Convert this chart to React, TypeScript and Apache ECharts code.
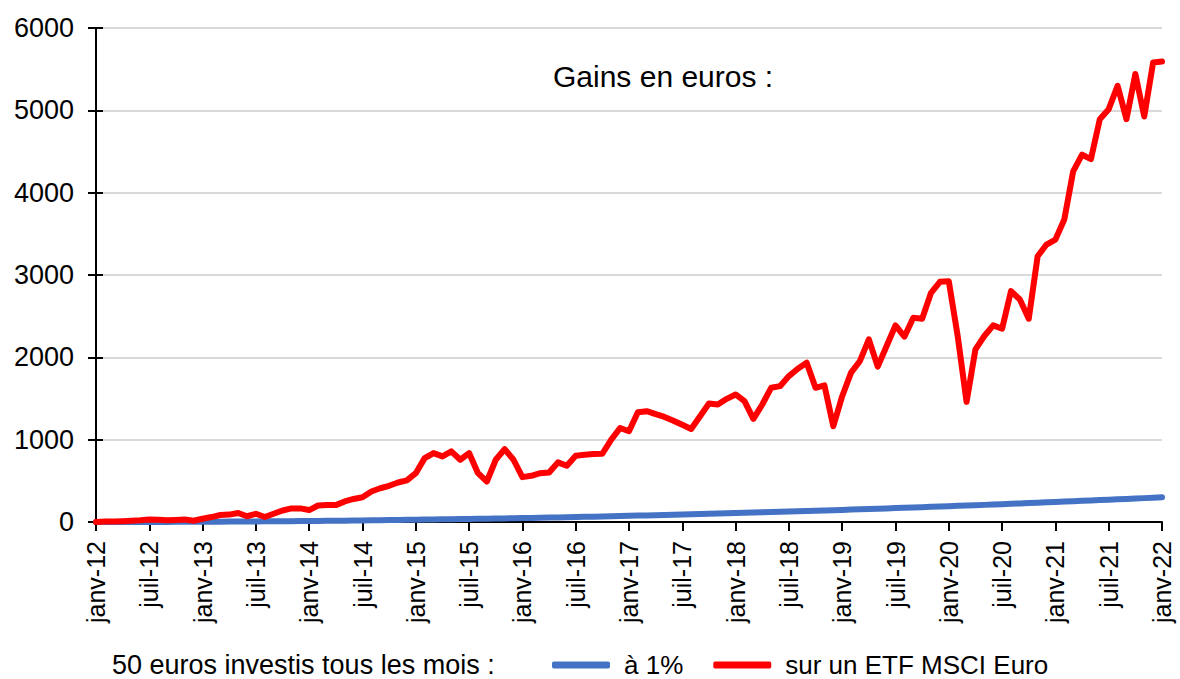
import React, { useEffect, useRef } from "react";
import * as echarts from "echarts";

const monthNames = ["janv", "févr", "mars", "avr", "mai", "juin", "juil", "août", "sept", "oct", "nov", "déc"];
const yearLabels = ["12", "13", "14", "15", "16", "17", "18", "19", "20", "21", "22"];

const yTicks = [0, 1000, 2000, 3000, 4000, 5000, 6000];

const gains1pct = [
  0, 0, 0, 0, 0, 1, 1, 1, 1, 2, 2, 3,
  3, 4, 4, 5, 5, 6, 7, 8, 8, 9, 10, 11,
  12, 13, 14, 15, 16, 18, 19, 20, 21, 23, 24, 26,
  27, 29, 30, 32, 33, 35, 37, 39, 40, 42, 44, 46,
  48, 50, 52, 54, 56, 59, 61, 63, 65, 68, 70, 73,
  75, 78, 80, 83, 85, 88, 91, 94, 96, 99, 102, 105,
  108, 111, 114, 117, 120, 124, 127, 130, 133, 137, 140, 144,
  147, 151, 154, 158, 161, 165, 169, 173, 176, 180, 184, 188,
  192, 196, 200, 204, 208, 213, 217, 221, 225, 230, 234, 239,
  243, 248, 252, 257, 261, 266, 271, 276, 280, 285, 290, 295,
  300,
];

const gainsETF = [
  0, 5, 5, 10, 15, 20, 30, 28, 20, 25, 30, 15,
  40, 60, 85, 90, 110, 70, 100, 60, 100, 140, 165, 165,
  145, 200, 205, 205, 250, 280, 300, 370, 410, 440, 480, 505,
  593, 776, 837, 797, 858, 756, 837, 593, 492, 756, 886, 756,
  545, 561, 593, 602, 724, 683, 805, 817, 825, 829, 1000, 1142,
  1102, 1333, 1346, 1310, 1276, 1230, 1180, 1130, 1285, 1439, 1427, 1496,
  1549, 1467, 1252, 1427, 1630, 1650, 1772, 1862, 1935, 1630, 1659, 1163,
  1528, 1814, 1956, 2218, 1887, 2137, 2388, 2251, 2481, 2469, 2784, 2917,
  2925, 2259, 1459, 2097, 2259, 2388, 2347, 2804, 2703, 2469, 3228, 3370,
  3430, 3673, 4259, 4461, 4408, 4893, 5014, 5297, 4893, 5442, 4925, 5580,
  5592,
];

const seriesNames = ["à 1%", "sur un ETF MSCI Euro"];
const titleText = "Gains en euros :";
const footText = "50 euros investis tous les mois :";

const categories: string[] = [];
yearLabels.forEach((y, yi) => {
  monthNames.forEach((m, mi) => {
    if (yi === yearLabels.length - 1 && mi > 0) return;
    categories.push(`${m}-${y}`);
  });
});

const FONT = "'Liberation Sans', Arial, sans-serif";

export default function App() {
  const ref = useRef<HTMLDivElement>(null);
  useEffect(() => {
    if (!ref.current) return;
    const chart = echarts.init(ref.current, undefined, { renderer: "svg" });
    chart.setOption({
      animation: false,
      backgroundColor: "#ffffff",
      textStyle: { fontFamily: FONT },
      grid: { left: 96, top: 28, width: 1066, height: 494, containLabel: false },
      legend: {
        left: 552,
        top: 652,
        padding: 0,
        itemWidth: 58,
        itemHeight: 7,
        itemGap: 30,
        icon: "roundRect",
        data: seriesNames,
        textStyle: {
          fontSize: 26,
          lineHeight: 22,
          color: "#000",
          fontFamily: FONT,
          padding: [0, 0, 0, 9],
        },
      },
      graphic: [
        {
          type: "text",
          left: 553,
          top: 61,
          style: { text: titleText, fontSize: 30, fill: "#000", fontFamily: FONT },
        },
        {
          type: "text",
          left: 112,
          top: 651,
          style: { text: footText, fontSize: 27, fill: "#000", fontFamily: FONT },
        },
      ],
      xAxis: {
        type: "category",
        data: categories,
        boundaryGap: false,
        axisLine: { lineStyle: { color: "#000", width: 2 } },
        axisTick: { interval: 5, length: 9, lineStyle: { color: "#000", width: 2 } },
        axisLabel: { interval: 5, rotate: 90, margin: 19, fontSize: 25, color: "#000", fontFamily: FONT },
        splitLine: { show: false },
      },
      yAxis: [
        {
          type: "value",
          min: yTicks[0],
          max: yTicks[yTicks.length - 1],
          interval: 1000,
          axisLine: { show: true, lineStyle: { color: "#000", width: 2 } },
          axisTick: { show: true, length: 8, lineStyle: { color: "#000", width: 2 } },
          axisLabel: {
            margin: 22,
            fontSize: 27,
            color: "#000",
            fontFamily: FONT,
            formatter: (v: number) => String(v),
          },
          splitLine: { show: true, lineStyle: { color: "#d9d9d9", width: 2 } },
        },
        {
          type: "value",
          position: "left",
          min: yTicks[0],
          max: yTicks[yTicks.length - 1],
          interval: 1000,
          axisLine: { show: false },
          axisTick: { show: true, inside: true, length: 7, lineStyle: { color: "#000", width: 2 } },
          axisLabel: { show: false },
          splitLine: { show: false },
        },
      ],
      series: [
        {
          name: seriesNames[0],
          type: "line",
          data: gains1pct,
          symbol: "none",
          color: "#4472C4",
          lineStyle: { color: "#4472C4", width: 6, cap: "round", join: "round" },
        },
        {
          name: seriesNames[1],
          type: "line",
          data: gainsETF,
          symbol: "none",
          color: "#FF0000",
          lineStyle: { color: "#FF0000", width: 6, cap: "round", join: "round" },
        },
      ],
    });
    return () => chart.dispose();
  }, []);
  return (
    <div
      ref={ref}
      style={{ position: "fixed", left: 0, top: 0, width: 1180, height: 679, background: "#fff" }}
    />
  );
}
